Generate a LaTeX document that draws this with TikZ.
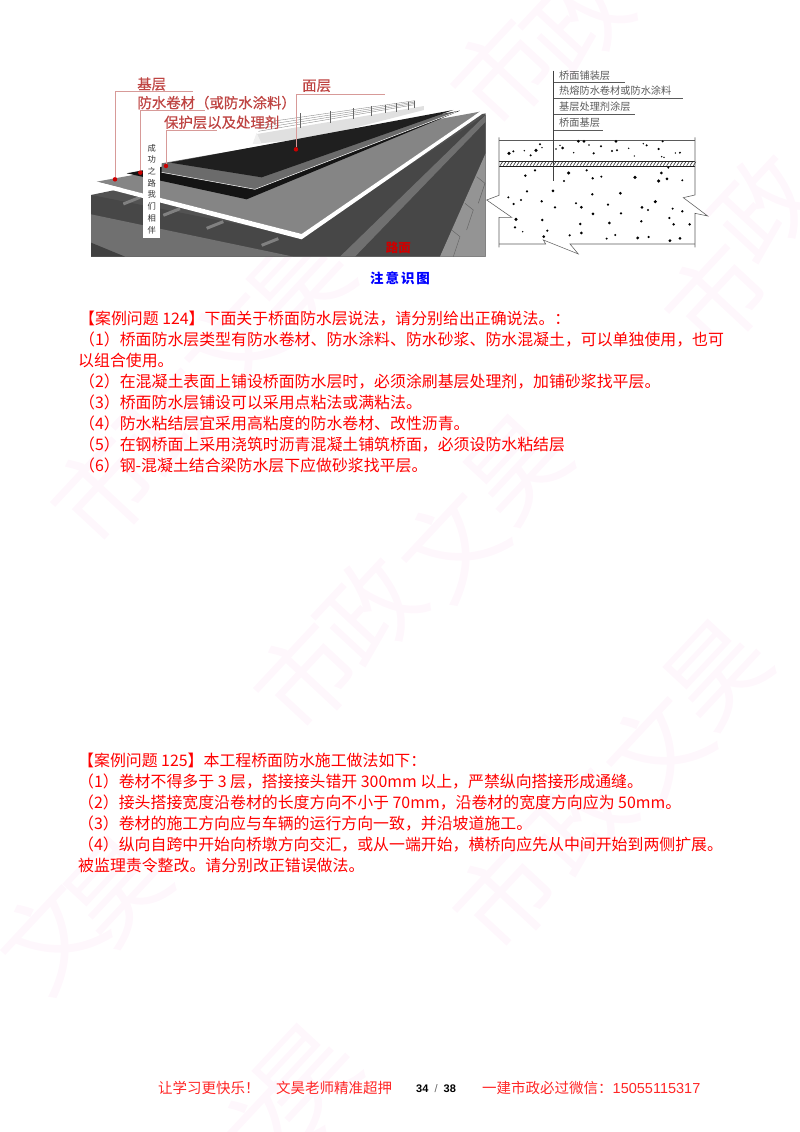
\documentclass[tikz,border=0pt]{standalone}
\usepackage{fontspec}
\setmainfont{Noto Sans CJK SC}
\newfontfamily\arialfont{Liberation Sans}
\newfontfamily\photofont[FakeBold=.6]{Noto Sans CJK SC}
\usepackage{xcolor}
\usetikzlibrary{matrix, positioning}
\definecolor{markpink}{HTML}{FEF7FC}
\definecolor{photored}{HTML}{BE4442}
\definecolor{leadred}{HTML}{D79A98}
\definecolor{sectgrey}{HTML}{5A5A5A}
\tikzset{
  mark char/.style={font=\fontsize{100}{100}\selectfont, text=markpink, rotate=47, inner sep=0pt},
  caseline/.style={font=\fontsize{15.9}{18}\selectfont, text=red, inner sep=0pt, anchor=base west},
  photo label/.style={font=\photofont\fontsize{14.4}{16}\selectfont, text=photored, inner sep=0pt},
  photo dot/.style={circle, fill=red!80!black, inner sep=0pt, minimum size=4.5pt},
  leader/.style={draw=leadred, line width=.5pt},
  sect label/.style={font=\fontsize{10.2}{12}\selectfont, text=sectgrey, inner sep=0pt, anchor=west},
  sect line/.style={draw=sectgrey, line width=.55pt},
  foot/.style={font=\fontsize{14.5}{16}\selectfont, text=red!85!white, inner sep=0pt, anchor=base west}
}
\begin{document}
\begin{tikzpicture}[x=1pt, y=-1pt]
\useasboundingbox (0,0) rectangle (800,1132);
%
\foreach \cx/\cy/\ch/\cn in {51/937/文/a, 117/890/昊/b, 306/677/市/c, 370/610/政/d, 452/545/文/e,
    517/468/昊/f, 717/298/市/g, 763/207/政/h, 265/1133/文/i, 306/1077/昊/j, 505/897/市/k,
    580/820/政/l, 657/749/文/m, 717/673/昊/n, 103/491/市/o, 170/420/政/p, 235/345/文/q,
    300/285/昊/r, 503/73/市/s, 577/20/政/t}
  \node[mark char] (mark\cn) at (\cx,\cy) {\ch};
%
% photo of the deck
\begin{scope}[shift={(80,60)}, x=.3333pt, y=-.3333pt]
\fill[black!68] (33,405) -- (1217,160) -- (1217,590) -- (33,590) -- cycle;
\fill[black!72] (33,405) -- (665,530) -- (1217,165) -- (1217,590) -- (33,590) -- cycle;
\fill[black!56] (33,463) -- (640,590) -- (33,590) -- cycle;
\fill[black!75] (33,548) -- (135,590) -- (33,590) -- cycle;
\fill[black!56] (780,590) -- (1217,165) -- (1217,185) -- (825,590) -- cycle;
\fill[black!42] (1080,590) -- (1217,280) -- (1217,590) -- cycle;
\foreach \sx/\sy in {1115/510, 1155/430, 1190/350}
  \draw[black!60, line width=.5pt] (\sx,\sy) -- ++(25,20) -- ++(-20,60);
\foreach \jx/\jy in {130/432, 250/466, 380/505, 545/556}
  \draw[black!50, line width=3pt] (\jx,\jy) -- ++(50,-20);
% railing
\fill[black!12] (520,252) -- (531,222) -- (1032,138) -- (1032,150) -- (700,235) -- cycle;
\fill[black!6] (518,252) -- (530,218) -- (545,252) -- cycle;
\foreach \ry in {0,8,16,24}
  \draw[black!45, line width=.4pt] (535,190+\ry) -- (1005,122+\ry/2);
\foreach \px/\pt/\pb in {660/160/205, 750/153/190, 820/145/178, 873/139/168, 915/134/160, 950/129/155, 985/125/150, 1003/123/145}
  \draw[black!60, line width=.7pt] (\px,\pt) -- (\px,\pb);
% layers
\fill[black!48] (50,365) -- (1200,155) -- (665,522) -- cycle;
\fill[white] (50,365) -- (665,522) -- (1200,155) -- (1205,163) -- (665,538) -- (50,378) -- cycle;
\fill[black!92] (140,340) -- (1140,152) -- (500,418) -- cycle;
\fill[black!58] (245,310) -- (1130,155) -- (525,388) -- (245,337) -- cycle;
\draw[white, line width=.5pt] (245,337) -- (525,388) -- (1130,155);
\fill[black!88] (270,308) -- (1120,150) -- (545,352) -- cycle;
% banner
\fill[white] (188,240) rectangle (240,535);
\node[font=\fontsize{8.3}{11.7}\selectfont, text=black!80, align=center, inner sep=0pt] (banner) at (215,387)
  {成\\功\\之\\路\\我\\们\\相\\伴};
\node[font=\bfseries\fontsize{12.5}{14}\selectfont, text=red!80!black, inner sep=0pt] (roadname) at (955,562) {路面};
% labels and leaders
\node[photo dot] (dotbase) at (105,358) {};
\node[photo dot] (dotroll) at (181,338) {};
\node[photo dot] (dotprot) at (258,318) {};
\node[photo dot] (dottop) at (648,268) {};
\node[photo label] (labbase) at (215,72) {基层};
\node[photo label] (labroll) at (410,128) {防水卷材（或防水涂料）};
\node[photo label] (labprot) at (425,187) {保护层以及处理剂};
\node[photo label] (labtop) at (710,77) {面层};
\coordinate (endbase) at (340,95);
\coordinate (endroll) at (375,152);
\coordinate (endprot) at (410,212);
\coordinate (endtop) at (915,103);
\draw[leader] (dotbase) |- (endbase);
\draw[leader] (dotroll) |- (endroll);
\draw[leader] (dotprot) |- (endprot);
\draw[leader] (dottop) |- (endtop);
\end{scope}
%
% section through the deck
\begin{scope}[shift={(480,60)}, x=.3333pt, y=-.3333pt]
\foreach \bx in {60,70,...,640}
  \draw[black!85, line width=.55pt] (\bx,317) -- (\bx+8,305);
\draw[black!85, line width=.6pt] (57,305) -- (645,305);
\draw[black!90, line width=1.1pt] (57,320) -- (645,320);
\draw[sect line] (57,240) -- (645,240);
\draw[sect line] (57,232) -- (57,406) -- (20,420) -- (95,472) -- (57,472) -- (57,562);
\draw[sect line] (57,552) -- (197,552) -- (190,540) -- (295,582) -- (270,552) -- (645,552);
\draw[sect line] (645,232) -- (645,405) -- (610,413) -- (683,468) -- (645,460) -- (645,562);
\coordinate (stemtop) at (221,32);
\coordinate (stembot) at (221,362);
\draw[black!75, line width=1pt] (stemtop) -- (stembot);
\node[sect label] (sect1) at (237,46) {桥面铺装层};
\node[sect label] (sect2) at (237,93) {热熔防水卷材或防水涂料};
\node[sect label] (sect3) at (237,141) {基层处理剂涂层};
\node[sect label] (sect4) at (237,188) {桥面基层};
\coordinate (under1) at (435,68);
\coordinate (under2) at (608,115);
\coordinate (under3) at (465,163);
\coordinate (under4) at (370,210);
\foreach \k in {1,2,3,4}
  \draw[sect line] (stemtop |- under\k) -- (under\k);
\foreach \dx/\dy/\dr in {87/280/1.8,100/274/1.1,133/272/.8,168/271/1.8,180/253/1.1,186/263/.8,152/286/1.1,228/267/.8,
    240/256/.8,248/264/1.5,281/278/.8,295/244/1.5,312/244/1.5,327/255/.8,341/280/1.2,363/259/1.1,396/273/1.1,
    411/271/1.1,408/244/1.5,446/265/.8,463/288/.7,490/251/.8,500/256/1.1,536/267/1.2,548/244/1.1,545/290/.8,552/292/.8,
    586/279/.8,600/278/1.1,165/331/1.2,136/347/1.4,266/339/1.7,252/363/1.2,320/331/1.2,338/355/1.3,364/350/1.1,
    465/352/1.8,544/339/1.5,536/363/1.8,561/357/1.5,565/323/1.1,607/361/1.1,219/393/1.5,141/394/1.2,85/412/1.1,
    123/420/1.1,101/432/1.2,185/424/1.3,225/442/1.3,288/430/1.1,304/442/1.5,337/403/1.3,421/400/1.5,384/434/1.2,
    339/462/1.5,423/460/1.3,486/442/1.5,504/450/1.2,526/425/1.7,578/446/1.1,607/454/1.3,108/478/1.7,187/480/1.4,
    105/502/1.3,128/515/.8,202/512/1.2,191/530/1.5,301/492/1.4,269/526/1.2,304/519/1.5,388/489/1.5,380/536/1.1,
    406/525/1.1,484/484/1.3,473/534/1.6,506/531/1.2,568/474/1.2,581/493/1.4,629/493/1.4,570/542/1.6,600/535/1.5}
  \fill[black] (\dx,\dy) circle[radius=\dr pt];
\end{scope}
%
\node[font=\bfseries\fontsize{13.5}{15}\selectfont, text=blue, inner sep=0pt] (figcap) at (400,278) {注\kern2pt 意\kern2pt 识\kern2pt 图};
%
\matrix (caseA) [matrix of nodes, inner sep=0pt, anchor=north west, nodes={caseline},
         row sep={21pt,between origins}] at (78,310.5)
{
|(a0)| 【案例问题 124】下面关于桥面防水层说法，请分别给出正确说法。： \\
|(a1)| （1）桥面防水层类型有防水卷材、防水涂料、防水砂浆、防水混凝土，可以单独使用，也可 \\
|[xshift=-1pt](a2)| 以组合使用。 \\
|(a3)| （2）在混凝土表面上铺设桥面防水层时，必须涂刷基层处理剂，加铺砂浆找平层。 \\
|(a4)| （3）桥面防水层铺设可以采用点粘法或满粘法。 \\
|(a5)| （4）防水粘结层宜采用高粘度的防水卷材、改性沥青。 \\
|(a6)| （5）在钢桥面上采用浇筑时沥青混凝土铺筑桥面，必须设防水粘结层 \\
|(a7)| （6）钢-混凝土结合梁防水层下应做砂浆找平层。 \\
};
\matrix (caseB) [matrix of nodes, inner sep=0pt, anchor=north west, nodes={caseline},
         row sep={21pt,between origins}] at (78,753)
{
|(b0)| 【案例问题 125】本工程桥面防水施工做法如下： \\
|(b1)| （1）卷材不得多于 3 层，搭接接头错开 300mm 以上，严禁纵向搭接形成通缝。 \\
|(b2)| （2）接头搭接宽度沿卷材的长度方向不小于 70mm，沿卷材的宽度方向应为 50mm。 \\
|(b3)| （3）卷材的施工方向应与车辆的运行方向一致，并沿坡道施工。 \\
|(b4)| （4）纵向自跨中开始向桥墩方向交汇，或从一端开始，横桥向应先从中间开始到两侧扩展。 \\
|(b5)| 被监理责令整改。请分别改正错误做法。 \\
};
%
\node[foot] (foot1) at (158,1093) {让学习更快乐！};
\node[foot] (foot2) at (276,1093) {文昊老师精准超押};
\node[foot, font=\arialfont\bfseries\fontsize{11}{13}\selectfont, text=black] (foot3) at (416,1092.5) {34\ \ {\mdseries\color{black!60}/}\ \ 38};
\node[foot] (foot4) at (482,1093) {一建市政必过微信：{\arialfont 15055115317}};
\end{tikzpicture}
\end{document}
